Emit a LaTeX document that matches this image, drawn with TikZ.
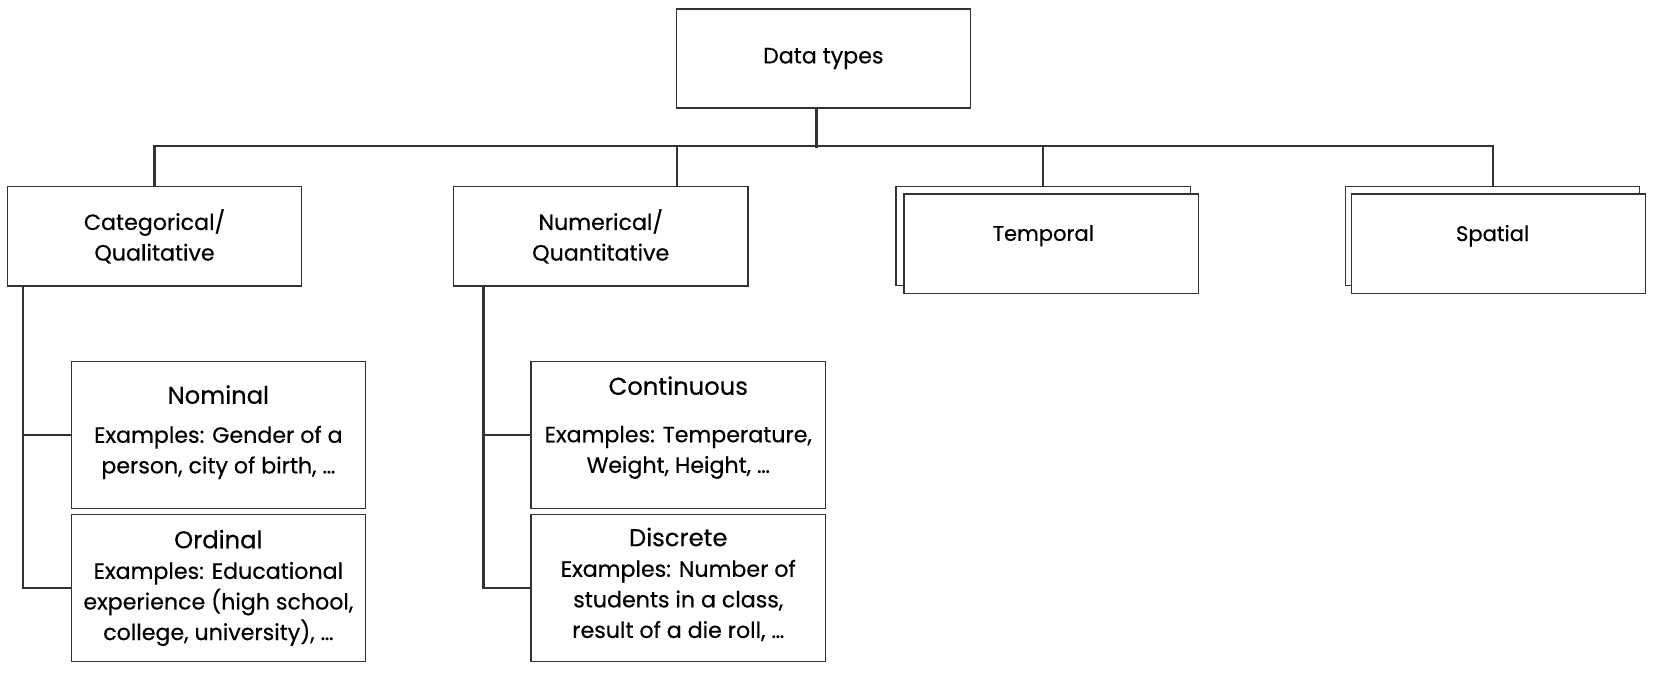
\documentclass[tikz,border=0pt]{standalone}
\usepackage{fontspec}
\setmainfont{Poppins}[FakeBold=0.4]
\usetikzlibrary{positioning}

\begin{document}
\begin{tikzpicture}[x=0.5pt,y=-0.5pt]
\tikzset{box/.style={draw=black!80,line width=0.6pt,fill=white,minimum width=139.5pt,minimum height=47pt,inner sep=0pt,align=center,font=\fontsize{10.5}{14.5}\selectfont},
  subbox/.style={box,minimum height=69.5pt},
  link/.style={draw=black!80,line width=1pt}}
\newcommand{\subhead}[1]{{\fontsize{11.5}{14}\selectfont #1}}
\useasboundingbox (0,0) rectangle (1568,639);

%top level
\node[box] (root) at (780.5,55.5) {Data types};
\node[box] (categorical) at (146.5,224) {Categorical/\\Qualitative};
\node[box] (numerical) at (569.5,224) {Numerical/\\Quantitative};

%stacked boxes
\node[box] (temporalback) at (989,223.5) {};
\node[box] (temporal) at (996.5,231) {};
\node at (temporalback) {Temporal};
\node[box] (spatialback) at (1415,223.5) {};
\node[box] (spatial) at (1420.5,231) {};
\node at (spatialback) {Spatial};

%sub types
\node[subbox] (nominal) at (207,412.5) {\subhead{Nominal}\\[4pt]Examples: Gender of a\\person, city of birth, …\\[-9pt]};
\node[subbox] (ordinal) at (207,557.5) {\subhead{Ordinal}\\Examples: Educational\\experience (high school,\\college, university), …\\[-11.5pt]};
\node[subbox] (continuous) at (643,412.5) {\subhead{Continuous}\\[8pt]Examples: Temperature,\\Weight, Height, …\\[-4.5pt]};
\node[subbox] (discrete) at (643,557.5) {\subhead{Discrete}\\Examples: Number of\\students in a class,\\result of a die roll, …\\[-9.5pt]};

%tree lines
\draw[link] ([xshift=-3.25pt]root.south) -- ++(0,37);
\draw[link] (categorical.north) -- ++(0,-38) -| (spatialback.north);
\draw[link] ([xshift=36.25pt]numerical.north) -- ++(0,-38);
\draw[link] (temporalback.north) -- ++(0,-38);

\draw[link] (nominal.west) -| ([xshift=7.5pt]categorical.south west);
\draw[link] (ordinal.west) -| ([xshift=7.5pt]categorical.south west);
\draw[link] (continuous.west) -| ([xshift=14.5pt]numerical.south west);
\draw[link] (discrete.west) -| ([xshift=14.5pt]numerical.south west);

\end{tikzpicture}
\end{document}
